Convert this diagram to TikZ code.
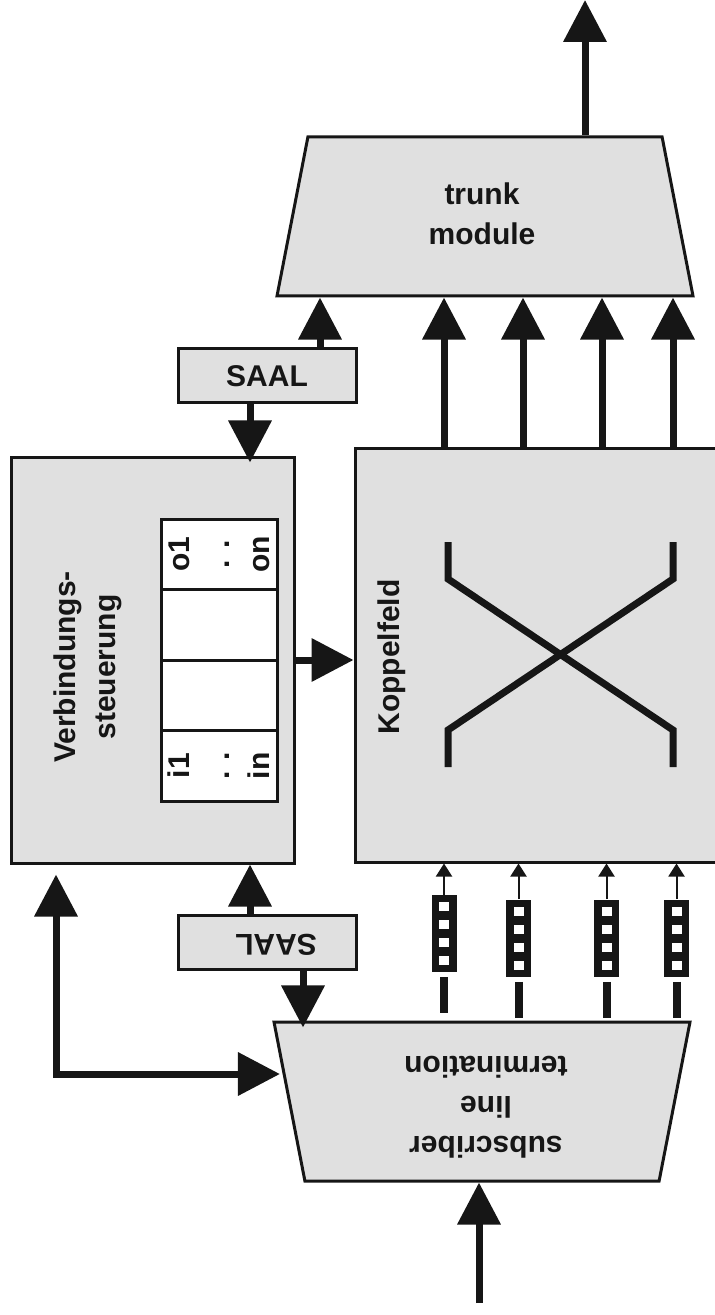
\documentclass[tikz,border=0pt]{standalone}
\usepackage{fontspec}
\setmainfont{Liberation Sans}
\usepackage{xcolor}
\usepackage{tikz}
\usetikzlibrary{arrows.meta,positioning,shapes.geometric}
\definecolor{boxgray}{HTML}{E0E0E0}
\definecolor{ink}{HTML}{161616}

\begin{document}
\begin{tikzpicture}[x=0.5pt,y=-0.5pt,>={Triangle[length=21pt,width=21pt]},
  txt/.style={font=\fontsize{15}{20}\selectfont\bfseries,text=ink,align=center,inner sep=0pt},
  block/.style={txt,draw=ink,fill=boxgray,line width=1.5pt},
  saalbox/.style={block,minimum width=89pt,minimum height=27pt},
  trap/.style={block,trapezium,trapezium angle=79,trapezium stretches body,
    inner ysep=39.75pt,minimum width=208pt},
  cell/.style={draw=ink,fill=white,line width=1.5pt,minimum width=58pt,minimum height=35.25pt},
  bigarrow/.style={draw=ink,line width=3.5pt},
  smallarrow/.style={draw=ink,line width=1pt,-{Triangle[length=6.5pt,width=8pt]}},
  xline/.style={draw=ink,line width=3.5pt}]
  \useasboundingbox (0,0) rectangle (715,1315);

  % blocks
  \node[trap] (trunk) at (485,216.5) {};
  \node[saalbox] (saal1) at (267,376) {SAAL};
  \node[block,minimum width=141.5pt,minimum height=203pt] (verb) at (152.5,660) {};
  \node[block,minimum width=187.5pt,minimum height=207pt] (koppel) at (542.5,655) {};
  \node[saalbox,rotate=180] (saal2) at (267.5,942.5) {};
  \node[trap,rotate=180] (sub) at (482,1101.5) {};

  \node[txt] (trunklabel) at (482,214) {trunk\\module};
  \node[txt,rotate=180] (sublabel) at (486,1107) {subscriber\\line\\termination};
  \node[txt,rotate=180] (saal2label) at (276,945) {SAAL};
  \node[txt,rotate=90] (verblabel) at (88,667) {Verbindungs-\\steuerung};
  \node[txt,rotate=90] (koppellabel) at (392,657) {Koppelfeld};

  % register of the connection control
  \foreach \i/\y in {1/554.25,2/624.75,3/695.25,4/765.75}
    \node[cell] (cell\i) at (219,\y) {};
  \node[txt,rotate=90] (outs) at (cell1) {o1\\. .\\on};
  \node[txt,rotate=90] (ins) at (cell4) {i1\\. .\\in};

  % switching matrix
  \draw[xline] (448,542) -- (448,579) -- (673,730) -- (673,767);
  \draw[xline] (673,542) -- (673,579) -- (448,730) -- (448,767);

  % cell buffers
  \foreach \i/\x/\y in {1/444/933.5,2/518.5/938,3/606.5/938,4/676.5/938} {
    \node[fill=ink,minimum width=12.5pt,minimum height=38.5pt,inner sep=0pt] (stack\i) at (\x,\y) {};
    \foreach \d in {-27,-9,9,27}
      \fill[white] (\x-5,\y+\d-4.5) rectangle ++(10,9);
    \draw[smallarrow] (stack\i.north) -- (stack\i.north |- koppel.south);
    \draw[draw=ink,line width=4pt] ([yshift=-2.5pt]stack\i.south) -- ++(0,36);
  }

  % connectors
  \coordinate (tout) at (585,0);
  \coordinate (tin) at (479,1303);
  \coordinate (lc) at (56,1074);
  \draw[bigarrow,->] (tout |- trunk.north) -- (tout);
  \foreach \x in {444,523,602,673}
    \draw[bigarrow,->] (\x,0 |- koppel.north) -- (\x,0 |- trunk.south);
  \draw[bigarrow,->] (320,0 |- saal1.north) -- (320,0 |- trunk.south);
  \draw[bigarrow,->,shorten >=-3.5pt] (250,0 |- saal1.south) -- (250,0 |- verb.north);
  \draw[bigarrow,->] (verb.east) -- (verb.east -| koppel.west);
  \draw[bigarrow,->] (250,0 |- saal2.south) -- (250,0 |- verb.south);
  \draw[bigarrow,->,shorten >=-3.5pt] (303,0 |- saal2.north) -- (303,0 |- sub.south);
  \draw[bigarrow,<->,shorten <=5pt,shorten >=4pt] (lc |- verb.south) -- (lc) -- (lc -| sub.east);
  \draw[bigarrow,->] (tin) -- (tin |- sub.north);
\end{tikzpicture}
\end{document}
